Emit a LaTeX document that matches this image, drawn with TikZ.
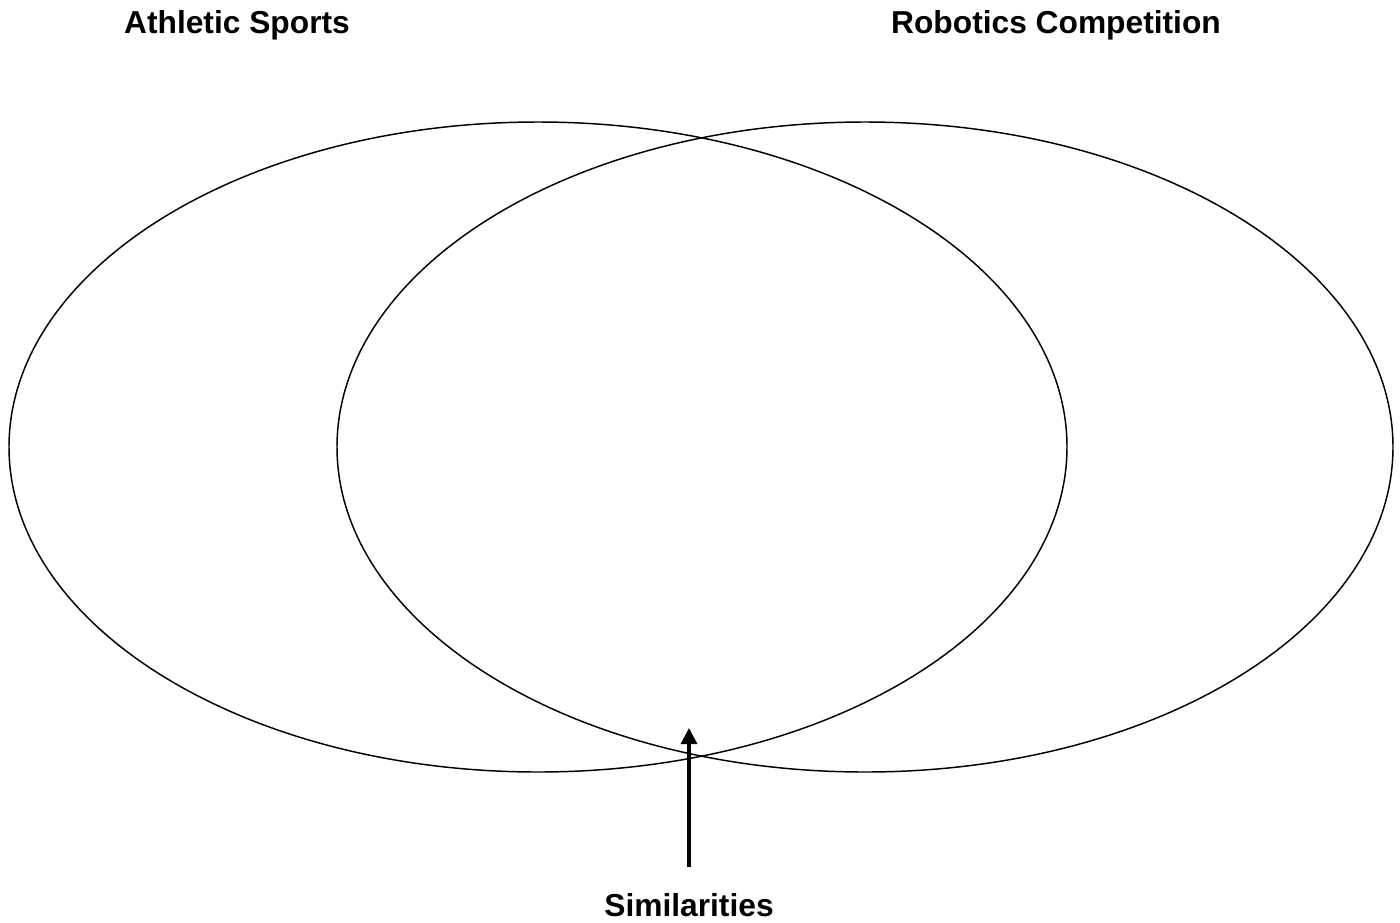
\documentclass[tikz,border=0pt]{standalone}
\usepackage{fontspec}
\setmainfont{Liberation Sans}
\usetikzlibrary{arrows.meta}

\begin{document}
\begin{tikzpicture}[x=0.75pt,y=0.75pt,yscale=-1,xscale=1]
	\tikzset{label text/.style={font=\bfseries\fontsize{23.8}{28}\selectfont,inner sep=0.75pt},
		venn/.style={line width=1.1pt}}
	\useasboundingbox (0,0) rectangle (1400,922);
	% circles
	\draw [venn] (538,447) ellipse (529 and 325);
	\draw [venn] (865,447) ellipse (528 and 325);
	% labels
	\node [label text] (sports) at (237,25) {Athletic Sports};
	\node [label text] (robots) at (1056,25) {Robotics Competition};
	\node [label text] (sim) at (689,905) {Similarities};
	\coordinate (simtip) at (689,728);
	\draw [line width=2.3pt,-{Triangle[length=12pt,width=12pt]},shorten <=18.5pt] (sim.north) -- (simtip);
\end{tikzpicture}
\end{document}
